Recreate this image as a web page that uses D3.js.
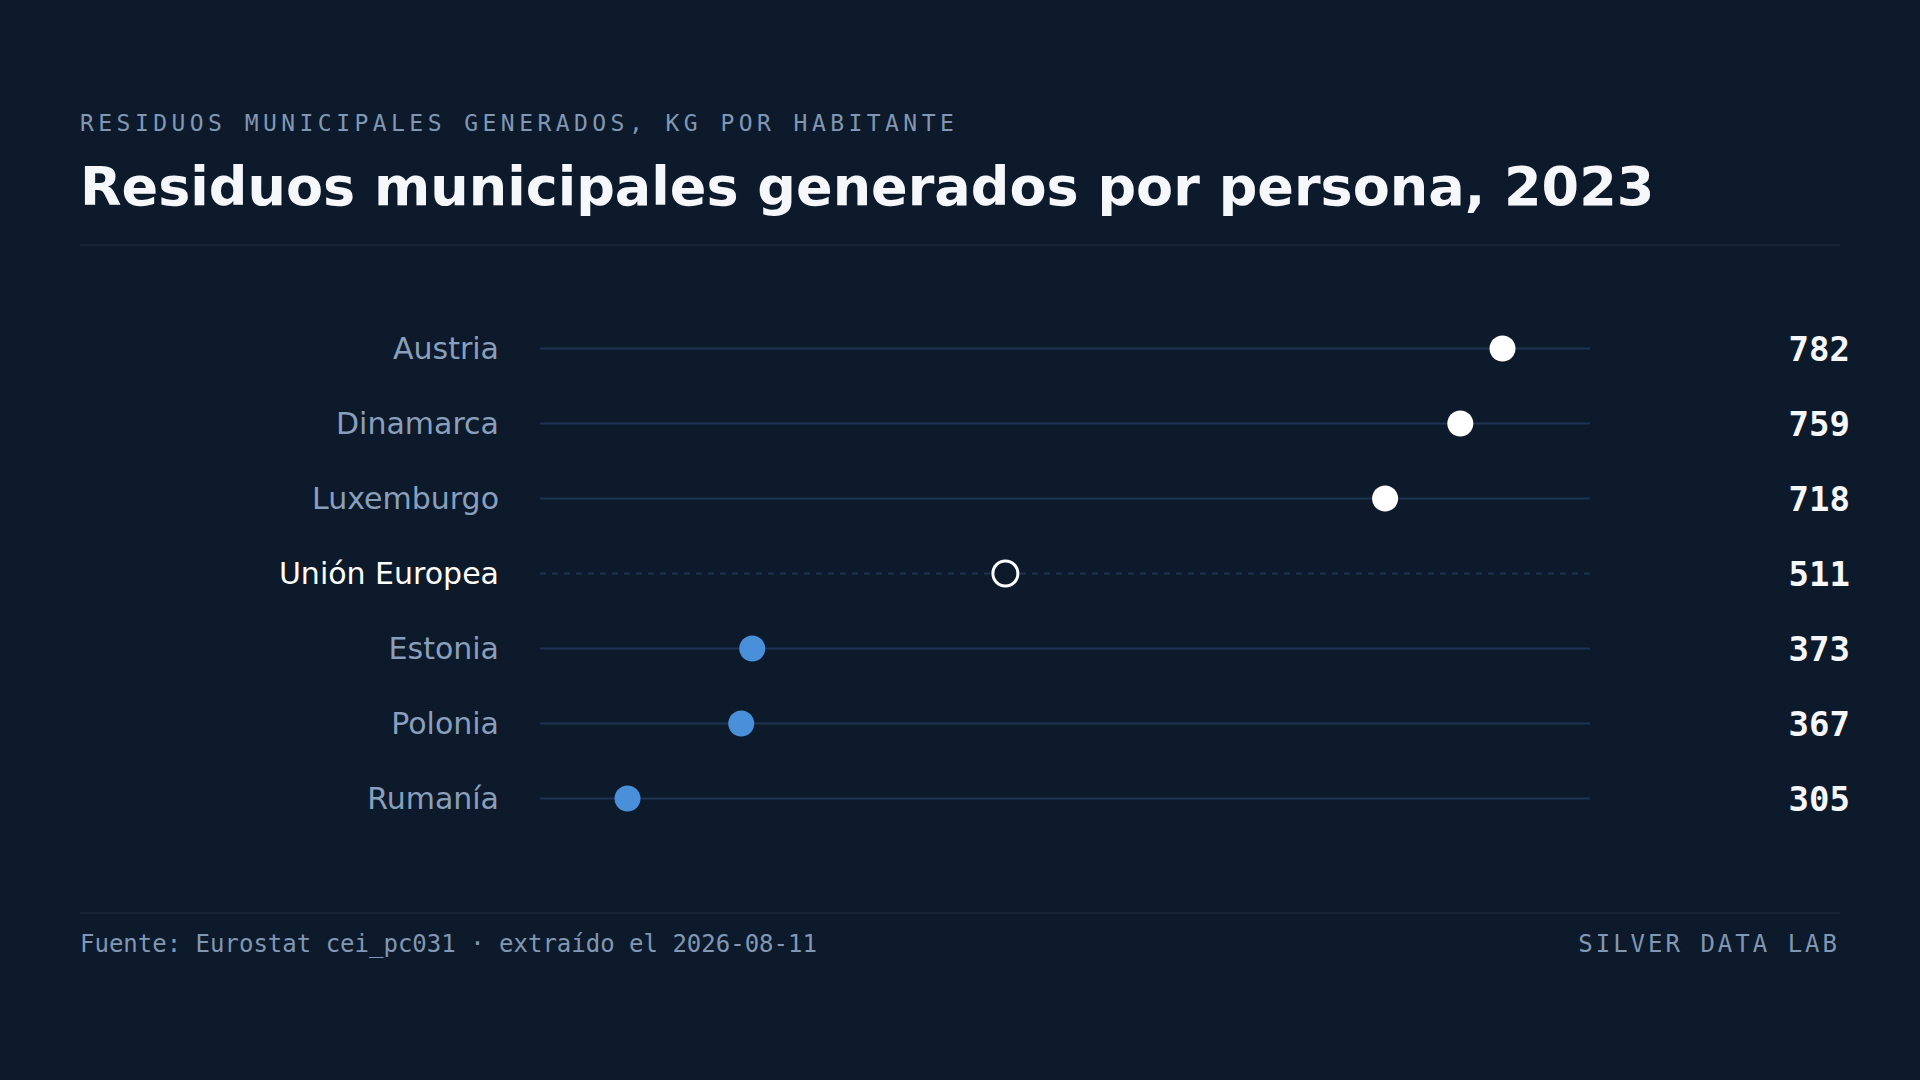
<!DOCTYPE html>
<html><head><meta charset="utf-8">
<script src="https://cdn.jsdelivr.net/npm/d3@7"></script>
<style>
html,body{margin:0;padding:0;background:#0d1a2b;}
svg{display:block;}
</style></head>
<body>
<svg id="chart" width="1920" height="1080"></svg>
<script>
const countries = ["Austria","Dinamarca","Luxemburgo","Unión Europea","Estonia","Polonia","Rumanía"];
const values = [782,759,718,511,373,367,305];
const reference = "Unión Europea";
const subtitle = "RESIDUOS MUNICIPALES GENERADOS, KG POR HABITANTE";
const title = "Residuos municipales generados por persona, 2023";
const source = "Fuente: Eurostat cei_pc031 · extraído el 2026-08-11";
const brand = "SILVER DATA LAB";

const data = countries.map((c,i)=>({country:c,value:values[i]}));
const refVal = values[countries.indexOf(reference)];

const svg = d3.select("#chart");
const W = 1920, H = 1080;
const bg = "#0d1a2b";
svg.append("rect").attr("width",W).attr("height",H).attr("fill",bg);

svg.append("text").attr("x",80).attr("y",131)
  .attr("font-family","DejaVu Sans Mono").attr("font-size",23)
  .attr("letter-spacing",4.45).attr("fill","#8197b3").text(subtitle);

svg.append("text").attr("x",80).attr("y",205)
  .attr("font-family","DejaVu Sans").attr("font-weight","bold").attr("font-size",54)
  .attr("fill","#f5f7fa").text(title);

svg.append("line").attr("x1",80).attr("x2",1840).attr("y1",245).attr("y2",245)
  .attr("stroke","#19283c").attr("stroke-width",1.5);

const ext = d3.extent(values);
const pad = (ext[1]-ext[0])*0.1;
const x = d3.scaleLinear().domain([ext[0]-pad, ext[1]+pad]).range([540,1590]);
const y = d3.scaleBand().domain(countries).range([311,836]);

const rows = svg.append("g").selectAll("g").data(data).join("g")
  .attr("transform",d=>`translate(0,${y(d.country)+y.bandwidth()/2})`);

rows.append("line")
  .attr("x1",x.range()[0]).attr("x2",x.range()[1])
  .attr("stroke","#1f3452").attr("stroke-width",2)
  .attr("stroke-dasharray",d=>d.country===reference?"6,6":null);

rows.append("text").attr("x",499).attr("dy","0.35em").attr("text-anchor","end")
  .attr("font-family","DejaVu Sans").attr("font-size",30)
  .attr("fill",d=>d.country===reference?"#ffffff":"#8a9fbb")
  .text(d=>d.country);

rows.append("circle").attr("cx",d=>x(d.value)).attr("r",d=>d.country===reference?12.5:13)
  .attr("fill",d=>d.country===reference?bg:(d.value>refVal?"#ffffff":"#4a8fd9"))
  .attr("stroke",d=>d.country===reference?"#ffffff":"none")
  .attr("stroke-width",3);

rows.append("text").attr("x",1850).attr("dy","0.37em").attr("text-anchor","end")
  .attr("font-family","DejaVu Sans Mono").attr("font-weight","bold").attr("font-size",34)
  .attr("fill","#f5f7fa").text(d=>d3.format("d")(d.value));

svg.append("line").attr("x1",80).attr("x2",1840).attr("y1",913).attr("y2",913)
  .attr("stroke","#19283c").attr("stroke-width",1.5);

svg.append("text").attr("x",80).attr("y",952)
  .attr("font-family","DejaVu Sans Mono").attr("font-size",24)
  .attr("fill","#8197b3").text(source);

svg.append("text").attr("x",1840).attr("y",952).attr("text-anchor","end")
  .attr("font-family","DejaVu Sans Mono").attr("font-size",24).attr("letter-spacing",3)
  .attr("fill","#8197b3").text(brand);
</script>
</body></html>
